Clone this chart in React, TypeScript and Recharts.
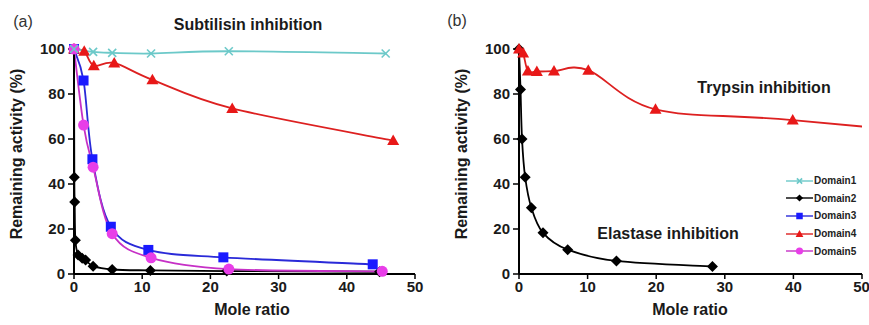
import React from 'react'
import { LineChart, Line, XAxis, YAxis } from 'recharts'

// (a) subtilisin inhibition
const d1aX = [0, 2.8, 5.6, 11.3, 22.7, 45.7]
const d1aY = [100, 98.7, 98.3, 98, 99, 98]
const d2aX = [0, 0.05, 0.1, 0.2, 0.6, 1.2, 1.7, 2.8, 5.6, 11.2, 22.4, 44.8]
const d2aY = [100, 43, 32, 15, 8.5, 7, 6.2, 3.5, 2, 1.6, 1.3, 1.0]
const d3aX = [0, 1.4, 2.7, 5.4, 10.9, 21.9, 43.8]
const d3aY = [100, 86, 51, 21, 10.7, 7.4, 4.3]
const d4aX = [0, 1.5, 2.9, 5.9, 11.5, 23.2, 46.8]
const d4aY = [100, 99, 92.6, 93.8, 86.3, 73.6, 59.3]
const d5aX = [0, 1.4, 2.8, 5.6, 11.3, 22.7, 45.2]
const d5aY = [100, 66.2, 47.5, 17.9, 7.2, 2.2, 1.2]

// (b) elastase (domain 2) and trypsin (domain 4)
const d2bX = [0, 0.22, 0.44, 0.9, 1.8, 3.5, 7.1, 14.2, 28.2]
const d2bY = [100, 82, 60, 43, 29.5, 18.3, 10.8, 5.8, 3.3]
const d4bX = [0, 0.6, 1.3, 2.6, 5.1, 10.1, 19.9, 39.9]
const d4bY = [100, 98.2, 90.2, 90, 90.2, 90.6, 73.2, 68.4]
// next point lies off the axis (x = 80), only the curve towards it shows
const d4bTailX = [80]
const d4bTailY = [57]

const xTicks = [0, 10, 20, 30, 40, 50]
const yTicks = [0, 20, 40, 60, 80, 100]
const legendNames = ['Domain1', 'Domain2', 'Domain3', 'Domain4', 'Domain5']

const zip = (xs: number[], ys: number[]) => xs.map((x, i) => ({ x, y: ys[i] }))

const styles: Record<string, { line: string; fill: string; shape: string }> = {
  Domain1: { line: '#6cc9c9', fill: '#6cc9c9', shape: 'cross' },
  Domain2: { line: '#000', fill: '#000', shape: 'diamond' },
  Domain3: { line: '#2a2ad8', fill: '#1a1aff', shape: 'square' },
  Domain4: { line: '#dd2020', fill: '#e81818', shape: 'triangle' },
  Domain5: { line: '#c630c6', fill: '#e83ee8', shape: 'circle' },
}

// Excel-style smoothed line (cardinal/Catmull-Rom bezier)
const excelCurve = (context: any) => {
  let xs: number[] = []
  let ys: number[] = []
  return {
    areaStart() {},
    areaEnd() {},
    lineStart() {
      xs = []
      ys = []
    },
    point(x: number, y: number) {
      xs.push(+x)
      ys.push(+y)
    },
    lineEnd() {
      const n = xs.length
      if (!n) return
      context.moveTo(xs[0], ys[0])
      for (let i = 0; i < n - 1; i++) {
        const a = Math.max(i - 1, 0)
        const d = Math.min(i + 2, n - 1)
        context.bezierCurveTo(
          xs[i] + (xs[i + 1] - xs[a]) / 6,
          ys[i] + (ys[i + 1] - ys[a]) / 6,
          xs[i + 1] - (xs[d] - xs[i]) / 6,
          ys[i + 1] - (ys[d] - ys[i]) / 6,
          xs[i + 1],
          ys[i + 1],
        )
      }
    },
  }
}

function Marker({ shape, cx, cy, color, s = 1 }: any) {
  if (cx == null || cy == null) return null
  switch (shape) {
    case 'cross':
      return (
        <g stroke={color} strokeWidth={1.6}>
          <line x1={cx - 4 * s} y1={cy - 4 * s} x2={cx + 4 * s} y2={cy + 4 * s} />
          <line x1={cx - 4 * s} y1={cy + 4 * s} x2={cx + 4 * s} y2={cy - 4 * s} />
        </g>
      )
    case 'diamond':
      return (
        <polygon
          points={`${cx},${cy - 5.5 * s} ${cx + 5.5 * s},${cy} ${cx},${cy + 5.5 * s} ${cx - 5.5 * s},${cy}`}
          fill={color}
        />
      )
    case 'square':
      return <rect x={cx - 5 * s} y={cy - 5 * s} width={10 * s} height={10 * s} fill={color} />
    case 'triangle':
      return (
        <polygon
          points={`${cx},${cy - 6 * s} ${cx + 6 * s},${cy + 4.5 * s} ${cx - 6 * s},${cy + 4.5 * s}`}
          fill={color}
        />
      )
    default:
      return <circle cx={cx} cy={cy} r={5.5 * s} fill={color} />
  }
}

const dotFor = (name: string) => (p: any) => (
  <Marker key={`${name}-${p.index}`} shape={styles[name].shape} cx={p.cx} cy={p.cy} color={styles[name].fill} />
)

const tickStyle = { fontSize: 15, fontWeight: 'bold', fill: '#1a1a1a', fontFamily: 'Liberation Sans, Arial, sans-serif' }
const axisLine = { stroke: '#000', strokeWidth: 2 }
const tickLine = { stroke: '#000', strokeWidth: 1.5 }

function Axes({ extra }: { extra?: boolean }) {
  return (
    <>
      <XAxis
        xAxisId="main"
        type="number"
        dataKey="x"
        domain={[0, 50]}
        ticks={xTicks}
        tick={tickStyle}
        tickSize={5}
        tickMargin={2}
        axisLine={axisLine}
        tickLine={tickLine}
        height={30}
      />
      {extra && (
        <XAxis
          xAxisId="clip"
          type="number"
          dataKey="x"
          domain={[0, 50]}
          allowDataOverflow
          hide
          height={0}
          orientation="top"
        />
      )}
      <YAxis
        type="number"
        domain={[0, 100]}
        ticks={yTicks}
        tick={tickStyle}
        tickSize={6}
        tickMargin={3}
        axisLine={axisLine}
        tickLine={tickLine}
        width={64}
      />
    </>
  )
}

function series(name: string, xs: number[], ys: number[]) {
  return (
    <Line
      key={name}
      xAxisId="main"
      data={zip(xs, ys)}
      dataKey="y"
      type={excelCurve as any}
      stroke={styles[name].line}
      strokeWidth={1.8}
      dot={dotFor(name)}
      activeDot={false}
      isAnimationActive={false}
    />
  )
}

const text = (t: string, x: number, y: number, size: number, bold = true, rotate = 0) => (
  <div
    style={{
      position: 'absolute',
      left: x,
      top: y,
      transform: `translate(-50%, -50%) rotate(${rotate}deg)`,
      fontSize: size,
      fontWeight: bold ? 'bold' : 'normal',
      color: bold ? '#1a1a1a' : '#333',
      whiteSpace: 'nowrap',
      lineHeight: 1,
    }}
  >
    {t}
  </div>
)

function LegendBox() {
  return (
    <div style={{ position: 'absolute', left: 786, top: 172 }}>
      {legendNames.map((n) => (
        <div key={n} style={{ display: 'flex', alignItems: 'center', height: 17.6 }}>
          <svg width={27} height={12}>
            <line x1={0} y1={6} x2={27} y2={6} stroke={styles[n].line} strokeWidth={1.4} />
            <Marker shape={styles[n].shape} cx={13.5} cy={6} color={styles[n].fill} s={0.65} />
          </svg>
          <span style={{ fontSize: 10, fontWeight: 'bold', color: '#222', marginLeft: 1 }}>{n}</span>
        </div>
      ))}
    </div>
  )
}

export default function App() {
  return (
    <div
      style={{
        position: 'absolute',
        left: 0,
        top: 0,
        width: 869,
        height: 325,
        background: '#fff',
        overflow: 'hidden',
        fontFamily: 'Liberation Sans, Arial, sans-serif',
      }}
    >
      <div style={{ position: 'absolute', left: 0, top: 0 }}>
        <LineChart width={430} height={325} margin={{ top: 49, right: 15, bottom: 21, left: 10 }}>
          <Axes />
          {series('Domain2', d2aX, d2aY)}
          {series('Domain3', d3aX, d3aY)}
          {series('Domain4', d4aX, d4aY)}
          {series('Domain5', d5aX, d5aY)}
          {series('Domain1', d1aX, d1aY)}
        </LineChart>
      </div>
      <div style={{ position: 'absolute', left: 430, top: 0 }}>
        <LineChart width={439} height={325} margin={{ top: 49, right: 7, bottom: 21, left: 25 }} style={{ overflow: 'visible' }}>
          <Axes extra />
          {series('Domain2', d2bX, d2bY)}
          <Line
            xAxisId="clip"
            data={zip([...d4bX, ...d4bTailX], [...d4bY, ...d4bTailY])}
            dataKey="y"
            type={excelCurve as any}
            stroke={styles.Domain4.line}
            strokeWidth={1.8}
            dot={false}
            activeDot={false}
            isAnimationActive={false}
          />
          <Line
            xAxisId="main"
            data={zip(d4bX, d4bY)}
            dataKey="y"
            stroke="none"
            dot={dotFor('Domain4')}
            activeDot={false}
            isAnimationActive={false}
          />
        </LineChart>
      </div>
      {text('(a)', 23, 22, 16, false)}
      {text('Subtilisin inhibition', 248, 25, 16)}
      {text('(b)', 457, 21, 16, false)}
      {text('Trypsin inhibition', 764, 88, 16)}
      {text('Elastase inhibition', 668, 234, 16)}
      {text('Mole ratio', 252, 310, 16)}
      {text('Mole ratio', 690, 310, 16)}
      {text('Remaining activity (%)', 17, 154, 16, true, -90)}
      {text('Remaining activity (%)', 462, 154, 16, true, -90)}
      <LegendBox />
    </div>
  )
}
